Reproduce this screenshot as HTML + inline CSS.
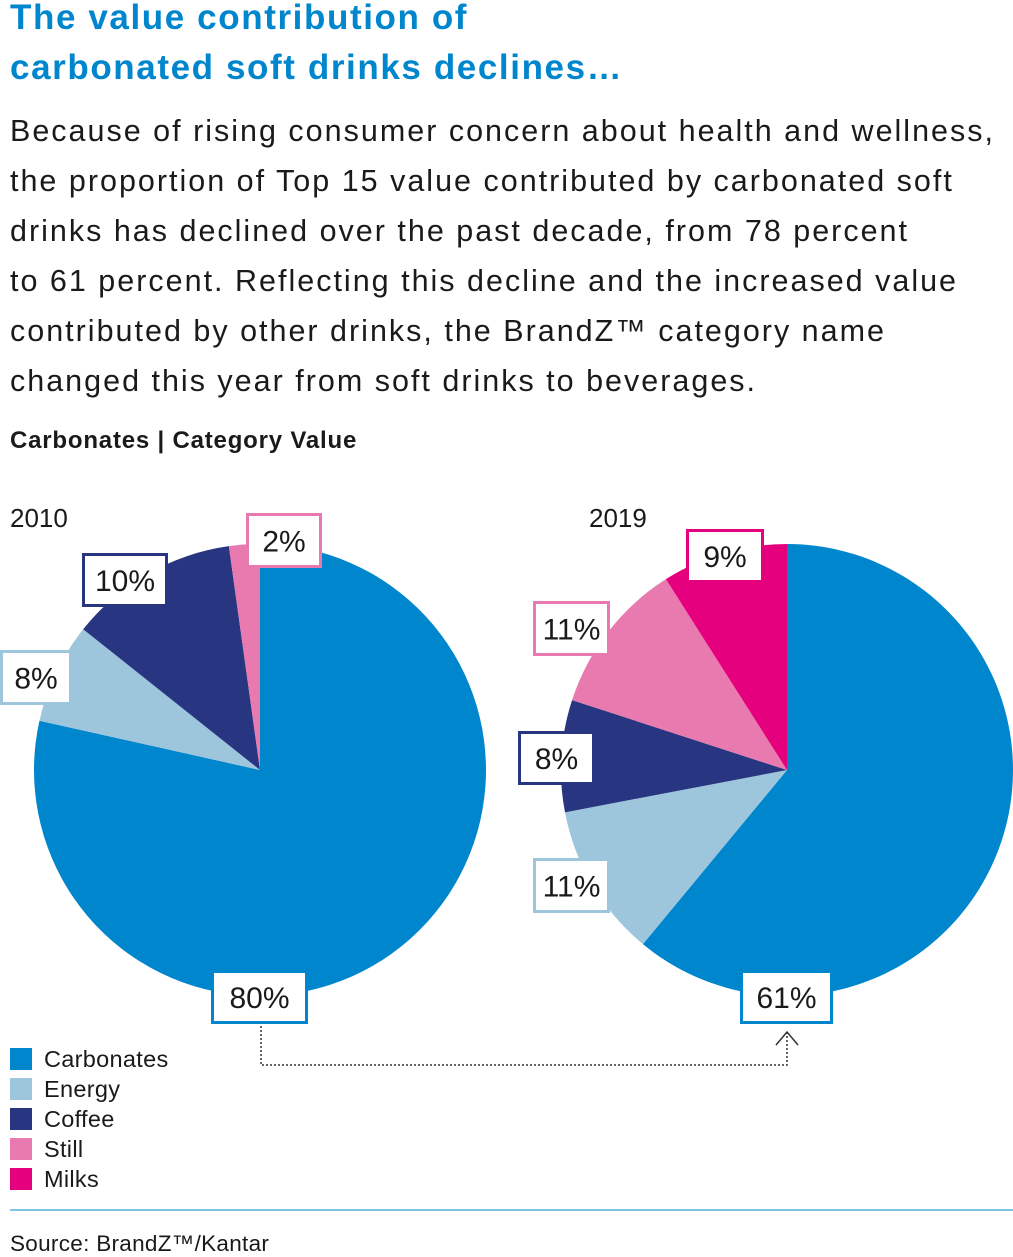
<!DOCTYPE html>
<html><head><meta charset="utf-8"><style>
body{margin:0;width:1013px;height:1252px;background:#fff;font-family:"Liberation Sans",sans-serif;position:relative;overflow:hidden;color:#1a1a1a}
.t{position:absolute;left:10px;top:-7px;color:#0086CD;font-weight:bold;font-size:35px;letter-spacing:1.6px;line-height:50px;margin:0;white-space:nowrap}
.p{position:absolute;left:10px;top:106px;font-size:30.5px;letter-spacing:2px;line-height:50px;margin:0;white-space:nowrap}
.h{position:absolute;left:10px;top:427px;font-weight:bold;font-size:24px;letter-spacing:0.8px}
.yr{position:absolute;font-size:26px}
.lg{position:absolute;left:10px;font-size:23.5px;line-height:22px;letter-spacing:0.3px}
.lg i{display:inline-block;width:22px;height:22px;vertical-align:top;margin-right:12px}
</style></head><body>
<h1 class="t">The value contribution of<br>carbonated soft drinks declines…</h1>
<p class="p">Because of rising consumer concern about health and wellness,<br>the proportion of Top 15 value contributed by carbonated soft<br>drinks has declined over the past decade, from 78 percent<br>to 61 percent. Reflecting this decline and the increased value<br>contributed by other drinks, the BrandZ™ category name<br>changed this year from soft drinks to beverages.</p>
<div class="h">Carbonates | Category Value</div>
<div class="yr" style="left:10px;top:503px">2010</div>
<div class="yr" style="left:589px;top:503px">2019</div>
<svg id="c" width="1013" height="1252" style="position:absolute;left:0;top:0"></svg>
<div id="leg"></div>
<div style="position:absolute;left:10px;top:1209px;width:1003px;height:2px;background:#7fc3e6"></div>
<div style="position:absolute;left:10px;top:1231px;font-size:22.5px;letter-spacing:0.3px">Source: BrandZ™/Kantar</div>
<script>
const categories=["Carbonates","Energy","Coffee","Still","Milks"];
const colors=["#0086CD","#9DC6DD","#283580","#E87AAF","#E5007E"];
const values2010=[78.5,7.2,12.1,2.2,0];
const labels2010=[80,8,10,2,0];
const values2019=[61,11,8,11,9];
const labels2019=[61,11,8,11,9];
const labelBoxes2010=[[211,970,97,54],[0,650,72,55],[82,553,86,54],[246,513,76,55],null];
const labelBoxes2019=[[740,970,93,54],[533,858,77,55],[518,731,77,54],[533,601,77,55],[686,529,78,54]];
const svg=document.getElementById('c');const NS='http://www.w3.org/2000/svg';
function el(t,a){const e=document.createElementNS(NS,t);for(const k in a)e.setAttribute(k,a[k]);svg.appendChild(e);return e;}
function pie(vals,labs,cx,cy,r,boxes,yr){
 const tot=vals.reduce((a,b)=>a+b,0);let a0=0;
 vals.forEach((v,i)=>{if(!v)return;const a1=a0+v/tot*2*Math.PI;
  const x0=cx+r*Math.sin(a0),y0=cy-r*Math.cos(a0),x1=cx+r*Math.sin(a1),y1=cy-r*Math.cos(a1);
  const p=el('path',{d:`M${cx},${cy}L${x0},${y0}A${r},${r} 0 ${a1-a0>Math.PI?1:0} 1 ${x1},${y1}Z`,fill:colors[i]});
  
  
  a0=a1;});
 labs.forEach((v,i)=>{const b=boxes[i];if(!v||!b)return;
  const g=el('g',{});
  
  
  const rc=document.createElementNS(NS,'rect');
  [['x',b[0]+1.5],['y',b[1]+1.5],['width',b[2]-3],['height',b[3]-3],['fill','#fff'],['stroke',colors[i]],['stroke-width',3]].forEach(([k,w])=>rc.setAttribute(k,w));g.appendChild(rc);
  const t=document.createElementNS(NS,'text');
  [['x',b[0]+b[2]/2],['y',b[1]+b[3]/2+11],['text-anchor','middle'],['font-size',30],['fill','#1a1a1a'],['font-family','Liberation Sans, sans-serif']].forEach(([k,w])=>t.setAttribute(k,w));
  t.textContent=v+'%';g.appendChild(t);});
}
pie(values2010,labels2010,260,770,226,labelBoxes2010,'2010');
pie(values2019,labels2019,787,770,226,labelBoxes2019,'2019');
const ln=el('path',{d:'M261,1026V1065H787V1032',fill:'none',stroke:'#333','stroke-width':1.5,'stroke-dasharray':'2,2'});


const ar=el('path',{d:'M776,1045L787,1032L798,1045',fill:'none',stroke:'#333','stroke-width':1.5});


const leg=document.getElementById('leg');
categories.forEach((c,i)=>{const d=document.createElement('div');d.className='lg';d.style.top=(1048+i*30)+'px';
 d.innerHTML='<i style="background:'+colors[i]+'"></i>'+c;
 
 
 leg.appendChild(d);});
</script>
</body></html>
